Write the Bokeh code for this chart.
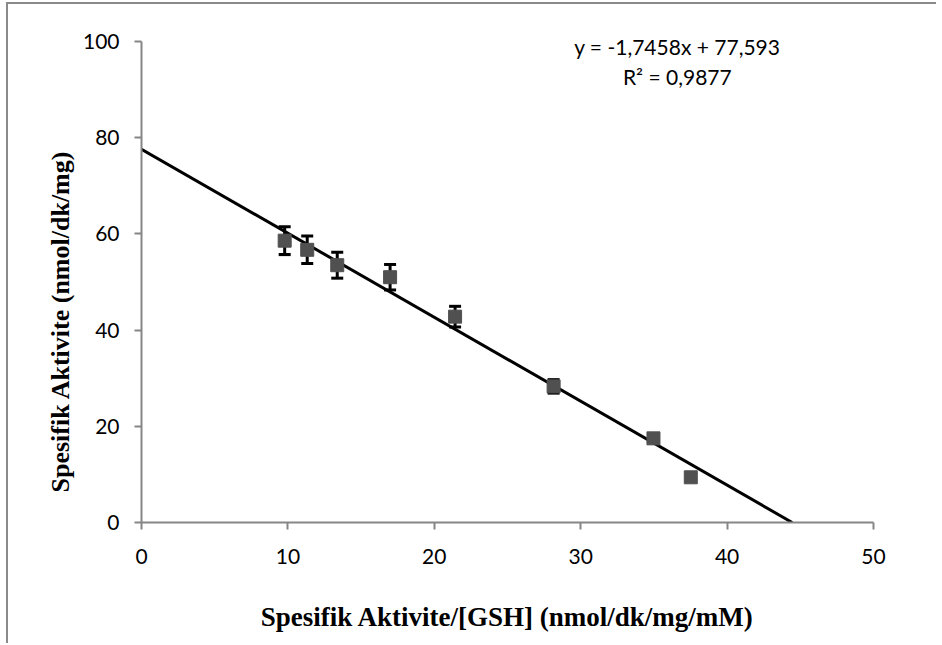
from bokeh.plotting import figure
from bokeh.models import Whisker, TeeHead, ColumnDataSource, Label, Range1d, FixedTicker, Title
from bokeh.embed import file_html
from bokeh.resources import INLINE

# Data
x_vals = [9.78, 11.32, 13.37, 16.98, 21.42, 28.15, 34.97, 37.52]
y_vals = [58.6, 56.7, 53.5, 51.0, 42.8, 28.3, 17.5, 9.4]
y_err = [2.9, 2.85, 2.7, 2.65, 2.15, 1.4, 0.5, 0.5]
slope = -1.7458
intercept = 77.593
eq_lines = ["y = -1,7458x + 77,593", "R\u00b2 = 0,9877"]
x_title = "Spesifik Aktivite/[GSH] (nmol/dk/mg/mM)"
y_title = "Spesifik Aktivite (nmol/dk/mg)"
x_ticks = [0, 10, 20, 30, 40, 50]
y_ticks = [0, 20, 40, 60, 80, 100]

src = ColumnDataSource(dict(
    x=x_vals, y=y_vals,
    lower=[y - e for y, e in zip(y_vals, y_err)],
    upper=[y + e for y, e in zip(y_vals, y_err)],
))

p = figure(width=930, height=641, output_backend="svg", toolbar_location=None,
           x_range=Range1d(0, 50), y_range=Range1d(0, 105),
           min_border_left=133, min_border_right=65, min_border_top=13, min_border_bottom=123)
p.styles = {"border-left": "2px solid #8a8a8a", "border-top": "2px solid #8a8a8a",
            "margin-left": "6px", "margin-top": "2px"}
p.outline_line_color = None
p.xgrid.visible = False
p.ygrid.visible = False

# trend line
x_end = -intercept / slope
p.line([0, x_end], [intercept, slope * x_end + intercept], line_color="black", line_width=3)

w = Whisker(source=src, base="x", lower="lower", upper="upper", line_color="black", line_width=3,
            lower_head=TeeHead(size=12, line_color="black", line_width=3),
            upper_head=TeeHead(size=12, line_color="black", line_width=3))
p.add_layout(w)

p.scatter("x", "y", source=src, marker="square", size=13, fill_color="#505050", line_color="#505050")

for ax in (p.xaxis[0], p.yaxis[0]):
    ax.axis_line_color = "#868686"
    ax.axis_line_width = 2
    ax.major_tick_line_color = "#868686"
    ax.major_tick_line_width = 2
    ax.major_tick_in = 0
    ax.major_tick_out = 7
    ax.minor_tick_line_color = None
    ax.major_label_text_font = "Lato"
    ax.major_label_text_font_size = "21px"
    ax.major_label_text_color = "black"

p.xaxis.ticker = FixedTicker(ticks=x_ticks)
p.yaxis.ticker = FixedTicker(ticks=y_ticks)
p.xaxis.bounds = (0, 50)
p.yaxis.bounds = (0, 100)
p.xaxis.major_label_standoff = 19
p.yaxis.major_label_standoff = 15

p.xaxis.axis_label = x_title
p.xaxis.axis_label_standoff = 35
p.xaxis.axis_label_text_font = "Liberation Serif"
p.xaxis.axis_label_text_font_style = "bold"
p.xaxis.axis_label_text_font_size = "27px"
p.xaxis.axis_label_text_color = "black"

p.add_layout(Title(text=y_title, offset=30, text_font_size="26px", text_font="Liberation Serif",
                   text_font_style="bold", text_color="black", align="left"), "left")

eq_kw = dict(text_font="Lato", text_font_size="21px", text_align="center",
             text_baseline="middle", text_color="black")
p.add_layout(Label(x=36.6, y=99.0, text=eq_lines[0], **eq_kw))
p.add_layout(Label(x=36.6, y=92.7, text=eq_lines[1], **eq_kw))

open("out.html", "w").write(file_html(p, INLINE))
